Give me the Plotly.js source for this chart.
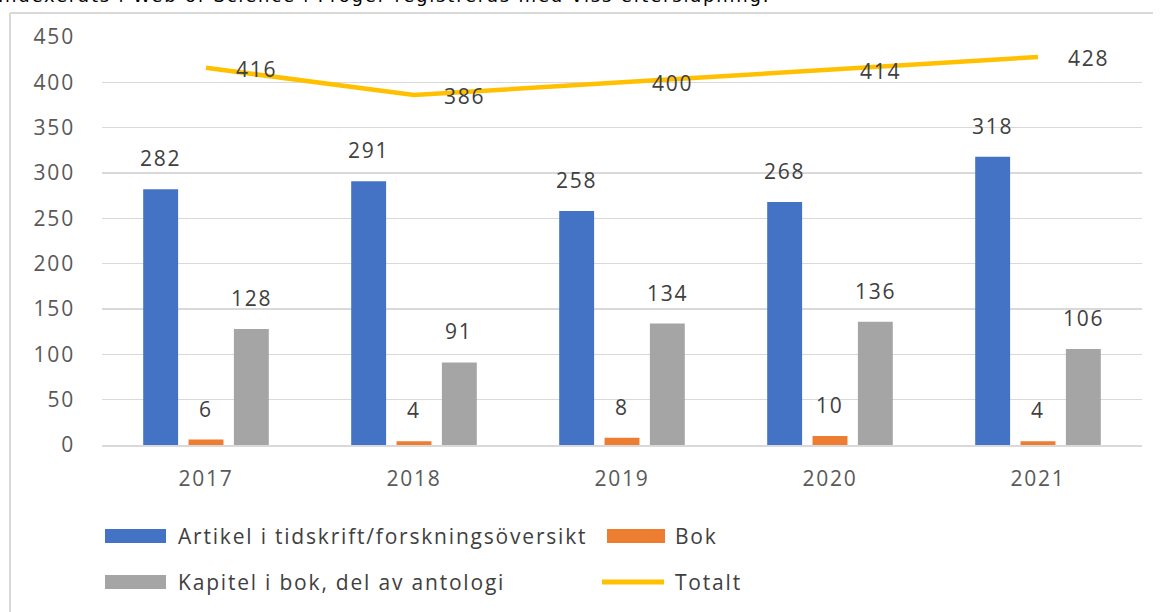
<!DOCTYPE html>
<html><head><meta charset="utf-8">
<script src="https://cdn.plot.ly/plotly-3.0.1.min.js"></script>
<style>html,body{margin:0;padding:0;background:#fff;}#chart{width:1162px;height:612px;}
svg text{letter-spacing:1.8px;}
</style>
</head><body><div id="chart"></div>
<script>
const years = ['2017','2018','2019','2020','2021'];
const artikel = [282, 291, 258, 268, 318];
const bok = [6, 4, 8, 10, 4];
const kapitel = [128, 91, 134, 136, 106];
const totalt = [416, 386, 400, 414, 428];
const names = ['Artikel i tidskrift/forskningsöversikt', 'Bok', 'Kapitel i bok, del av antologi', 'Totalt'];
const colors = ['#4472C4', '#ED7D31', '#A5A5A5', '#FFC000'];
const topNote = 'Indexerats i Web of Science i Proger registreras med viss eftersläpning.';

const FONT = 'Open Sans, Liberation Sans, sans-serif';
const FS = 21;
const barSeries = [artikel, bok, kapitel];
const traces = barSeries.map((vals, i) => ({
  type: 'bar', x: years, y: vals, name: names[i],
  marker: {color: colors[i]}, showlegend: false, hoverinfo: 'skip'
}));
traces.push({type: 'scatter', mode: 'lines', x: years, y: totalt, name: names[3],
  line: {color: colors[3], width: 4.5}, showlegend: false, hoverinfo: 'skip'});

const plotL = 102, plotW = 1040, plotT = 37, plotH = 408;
const catW = plotW / years.length;
const bargap = 0.346;
const slot = catW * (1 - bargap) / 3;

const annotations = [];
barSeries.forEach((vals, i) => {
  vals.forEach((v, j) => {
    annotations.push({x: j, y: v, xref: 'x', yref: 'y', text: String(v),
      showarrow: false, xshift: (i - 1) * slot, yanchor: 'bottom', yshift: 15,
      font: {family: FONT, size: FS, color: '#404040'}});
  });
});
totalt.forEach((v, j) => {
  annotations.push({x: j, y: v, xref: 'x', yref: 'y', text: String(v),
    showarrow: false, xshift: 50, yshift: -1, yanchor: 'middle',
    font: {family: FONT, size: FS, color: '#404040'}});
});
const px2x = p => (p - plotL) / plotW;
const py2y = p => (plotT + plotH - p) / plotH;
annotations.push({xref: 'paper', yref: 'paper', x: px2x(-4), y: py2y(-4), xanchor: 'left', yanchor: 'middle',
  text: topNote, showarrow: false, font: {family: 'DejaVu Sans, sans-serif', size: 18, color: '#000'}});

const shapes = [];
const legendItems = [
  {i: 0, sx0: 105, sx1: 166, tx: 176, cy: 536},
  {i: 1, sx0: 607, sx1: 665, tx: 673, cy: 536},
  {i: 2, sx0: 105, sx1: 166, tx: 176, cy: 582},
  {i: 3, sx0: 602, sx1: 664, tx: 673, cy: 582}
];
legendItems.forEach(it => {
  if (it.i < 3) {
    shapes.push({type: 'rect', xref: 'paper', yref: 'paper', x0: px2x(it.sx0), x1: px2x(it.sx1),
      y0: py2y(it.cy + 7), y1: py2y(it.cy - 7), fillcolor: colors[it.i], line: {width: 0}});
  } else {
    shapes.push({type: 'line', xref: 'paper', yref: 'paper', x0: px2x(it.sx0), x1: px2x(it.sx1),
      y0: py2y(it.cy), y1: py2y(it.cy), line: {color: colors[it.i], width: 5}});
  }
  annotations.push({xref: 'paper', yref: 'paper', x: px2x(it.tx), y: py2y(it.cy), xanchor: 'left', yanchor: 'middle',
    text: names[it.i], showarrow: false, font: {family: FONT, size: FS, color: '#404040'}});
});
shapes.push({type: 'line', xref: 'paper', yref: 'paper', x0: px2x(10), x1: px2x(1153), y0: py2y(13), y1: py2y(13), line: {color: '#d9d9d9', width: 2}});
shapes.push({type: 'line', xref: 'paper', yref: 'paper', x0: px2x(10), x1: px2x(10), y0: py2y(13), y1: py2y(620), line: {color: '#d9d9d9', width: 2}});

const layout = {
  width: 1162, height: 612,
  margin: {l: plotL, r: 1162 - plotL - plotW, t: plotT, b: 612 - plotT - plotH},
  paper_bgcolor: '#fff', plot_bgcolor: '#fff',
  barmode: 'group', bargap: bargap, bargroupgap: 0.23,
  showlegend: false,
  xaxis: {type: 'category', range: [-0.5, years.length - 0.5], autorange: false, showgrid: false, zeroline: false,
    showline: true, linecolor: '#d9d9d9', linewidth: 1.5,
    ticks: '', ticklabelstandoff: 14, tickfont: {family: FONT, size: FS, color: '#595959'}},
  yaxis: {range: [0, 450], autorange: false, dtick: 50, showgrid: true, gridcolor: '#d9d9d9', gridwidth: 1.5, zeroline: false,
    showline: false, ticks: '', ticklabelstandoff: 26, tickfont: {family: FONT, size: FS, color: '#595959'}},
  annotations: annotations, shapes: shapes
};
Plotly.newPlot('chart', traces, layout, {displayModeBar: false, staticPlot: true});
</script></body></html>
